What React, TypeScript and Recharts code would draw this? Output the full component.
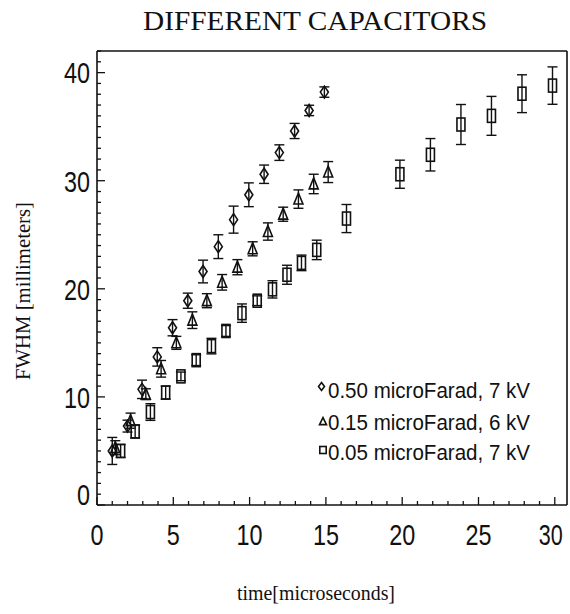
import React from "react";
import { ScatterChart, Scatter, XAxis, YAxis, ErrorBar, Legend } from "recharts";

// 0.50 microFarad, 7 kV (diamonds)
const diamondX = [1.0, 2.0, 2.95, 3.95, 4.95, 5.95, 6.95, 7.95, 8.95, 9.95, 10.95, 11.95, 12.95, 13.9, 14.9];
const diamondY = [5.0, 7.3, 10.7, 13.7, 16.4, 18.9, 21.6, 23.9, 26.4, 28.7, 30.6, 32.6, 34.6, 36.5, 38.2];
const diamondErr = [1.25, 0.55, 0.85, 0.85, 0.75, 0.7, 1.05, 1.1, 1.25, 1.1, 0.85, 0.72, 0.7, 0.48, 0.48];

// 0.15 microFarad, 6 kV (triangles)
const triangleX = [1.2, 2.2, 3.2, 4.2, 5.2, 6.25, 7.2, 8.2, 9.2, 10.2, 11.2, 12.2, 13.2, 14.2, 15.15];
const triangleY = [5.3, 7.8, 10.25, 12.6, 15.0, 17.1, 18.9, 20.6, 22.0, 23.7, 25.3, 26.9, 28.3, 29.7, 30.8];
const triangleErr = [0.65, 0.7, 0.5, 0.77, 0.6, 0.77, 0.65, 0.72, 0.7, 0.65, 0.8, 0.65, 0.85, 0.9, 0.97];

// 0.05 microFarad, 7 kV (squares)
const squareX = [1.55, 2.5, 3.5, 4.5, 5.5, 6.5, 7.5, 8.45, 9.5, 10.5, 11.5, 12.45, 13.4, 14.4, 16.35, 19.85, 21.85, 23.85, 25.85, 27.85, 29.85];
const squareY = [5.0, 6.8, 8.6, 10.4, 11.9, 13.4, 14.7, 16.1, 17.75, 18.9, 19.95, 21.3, 22.4, 23.6, 26.5, 30.6, 32.4, 35.2, 36.0, 38.05, 38.8];
const squareErr = [0.6, 0.6, 0.77, 0.6, 0.4, 0.5, 0.72, 0.5, 0.85, 0.45, 0.8, 0.88, 0.72, 0.9, 1.3, 1.3, 1.5, 1.85, 1.8, 1.75, 1.73];

const legendLabels = ["0.50 microFarad, 7 kV", "0.15 microFarad, 6 kV", "0.05 microFarad, 7 kV"];

const majorXTicks = [0, 5, 10, 15, 20, 25, 30];
const majorYTicks = [0, 10, 20, 30, 40];
const xTicks = Array.from({ length: 31 }, (_, i) => i);
const yTicks = Array.from({ length: 43 }, (_, i) => i);

const X_MAX = 30.8;
const Y_MAX = 42;

const toPoints = (xs: number[], ys: number[], errs: number[]) =>
  xs.map((x, i) => ({ x, y: ys[i], err: errs[i] }));

const diamondData = toPoints(diamondX, diamondY, diamondErr);
const triangleData = toPoints(triangleX, triangleY, triangleErr);
const squareData = toPoints(squareX, squareY, squareErr);

const INK = "#111";
const SANS = "'Liberation Sans Narrow', 'Liberation Sans', Arial, sans-serif";
const SERIF = "'Liberation Serif', 'Times New Roman', serif";

function Diamond({ cx, cy, w = 4, h = 6 }: { cx: number; cy: number; w?: number; h?: number }) {
  return (
    <path
      d={`M${cx},${cy - h} L${cx + w},${cy} L${cx},${cy + h} L${cx - w},${cy} Z`}
      fill="none"
      stroke={INK}
      strokeWidth={1.6}
    />
  );
}

function Triangle({ cx, cy, w = 4.5, h = 11 }: { cx: number; cy: number; w?: number; h?: number }) {
  return (
    <path
      d={`M${cx},${cy - h * 0.55} L${cx + w},${cy + h * 0.45} L${cx - w},${cy + h * 0.45} Z`}
      fill="none"
      stroke={INK}
      strokeWidth={1.6}
    />
  );
}

function Square({ cx, cy, w = 4, h = 6.5 }: { cx: number; cy: number; w?: number; h?: number }) {
  return (
    <rect x={cx - w} y={cy - h} width={w * 2} height={h * 2} fill="none" stroke={INK} strokeWidth={1.6} />
  );
}

function tickLabel(x: number, y: number, v: number, anchor: "middle" | "end", len?: number) {
  const s = String(v);
  return (
    <text
      x={x}
      y={y}
      textAnchor={anchor}
      fontFamily={SANS}
      fontSize={30}
      fill={INK}
      textLength={len ?? s.length * 13}
      lengthAdjust="spacingAndGlyphs"
    >
      {s}
    </text>
  );
}

function BottomTick(props: any) {
  const { x, y, payload } = props;
  const v = payload.value;
  const major = majorXTicks.includes(v);
  const last = v === 30;
  return (
    <g>
      <line x1={x} x2={x} y1={y} y2={y - (major ? 8 : 4)} stroke={INK} strokeWidth={1.3} />
      {major && tickLabel(last ? x - 4 : x, y + 40, v, "middle", last ? 24 : undefined)}
    </g>
  );
}

function TopTick(props: any) {
  const { x, y, payload } = props;
  const major = majorXTicks.includes(payload.value);
  return <line x1={x} x2={x} y1={y} y2={y + (major ? 8 : 4)} stroke={INK} strokeWidth={1.3} />;
}

function LeftTick(props: any) {
  const { x, y, payload } = props;
  const v = payload.value;
  const major = majorYTicks.includes(v);
  return (
    <g>
      <line x1={x} x2={x + (major ? 8 : 4)} y1={y} y2={y} stroke={INK} strokeWidth={1.3} />
      {major && tickLabel(x - 7, v === 0 ? y : y + 10.8, v, "end")}
    </g>
  );
}

function RightTick(props: any) {
  const { x, y, payload } = props;
  const major = majorYTicks.includes(payload.value);
  return <line x1={x} x2={x - (major ? 8 : 4)} y1={y} y2={y} stroke={INK} strokeWidth={1.3} />;
}

function TitleText() {
  return (
    <text
      x={315}
      y={30}
      textAnchor="middle"
      fontFamily={SERIF}
      fontSize={27}
      fill={INK}
      textLength={344}
      lengthAdjust="spacingAndGlyphs"
    >
      DIFFERENT CAPACITORS
    </text>
  );
}

function XLabelText() {
  return (
    <text x={316} y={600} textAnchor="middle" fontFamily={SERIF} fontSize={20} fill={INK} textLength={158} lengthAdjust="spacingAndGlyphs">
      time[microseconds]
    </text>
  );
}

function YLabelText() {
  return (
    <text
      x={29.5}
      y={291}
      transform="rotate(-90 29.5 291)"
      textAnchor="middle"
      fontFamily={SERIF}
      fontSize={20.5}
      fill={INK}
      textLength={178}
      lengthAdjust="spacingAndGlyphs"
    >
      FWHM [millimeters]
    </text>
  );
}

function LegendContent() {
  const baselines = [398, 430, 460];
  const symbols = [
    <Diamond key="d" cx={321.5} cy={386.5} w={3} h={4} />,
    <Triangle key="t" cx={323} cy={421.5} w={3.5} h={7} />,
    <Square key="s" cx={323} cy={450} w={3.2} h={3.5} />,
  ];
  return (
    <svg width={570} height={614} style={{ position: "absolute", left: 0, top: 0, overflow: "visible" }}>
      {legendLabels.map((label, i) => (
        <g key={label}>
          {symbols[i]}
          <text
            x={328}
            y={baselines[i]}
            fontFamily={SANS}
            fontSize={22}
            fill={INK}
            textLength={202}
            lengthAdjust="spacingAndGlyphs"
          >
            {label}
          </text>
        </g>
      ))}
    </svg>
  );
}

export default function App() {
  return (
    <div style={{ position: "fixed", left: 0, top: 0, width: 570, height: 614, background: "#fff" }}>
      <ScatterChart width={570} height={614} margin={{ top: 50, right: 0, bottom: 49, left: 37 }}>
        <XAxis
          xAxisId="bottom"
          type="number"
          dataKey="x"
          orientation="bottom"
          domain={[0, X_MAX]}
          ticks={xTicks}
          interval={0}
          height={60}
          tickSize={0}
          tickMargin={0}
          tickLine={false}
          tick={BottomTick}
          axisLine={{ stroke: INK, strokeWidth: 1.6 }}
          label={<XLabelText />}
        />
        <XAxis
          xAxisId="top"
          type="number"
          dataKey="x"
          orientation="top"
          domain={[0, X_MAX]}
          ticks={xTicks}
          interval={0}
          height={1}
          tickSize={0}
          tickMargin={0}
          tickLine={false}
          tick={TopTick}
          axisLine={{ stroke: INK, strokeWidth: 1.6 }}
          label={<TitleText />}
        />
        <YAxis
          yAxisId="left"
          type="number"
          dataKey="y"
          orientation="left"
          domain={[0, Y_MAX]}
          ticks={yTicks}
          interval={0}
          width={60}
          tickSize={0}
          tickMargin={0}
          tickLine={false}
          tick={LeftTick}
          axisLine={{ stroke: INK, strokeWidth: 1.6 }}
          label={<YLabelText />}
        />
        <YAxis
          yAxisId="right"
          type="number"
          dataKey="y"
          orientation="right"
          domain={[0, Y_MAX]}
          ticks={yTicks}
          interval={0}
          width={3}
          tickSize={0}
          tickMargin={0}
          tickLine={false}
          tick={RightTick}
          axisLine={{ stroke: INK, strokeWidth: 1.6 }}
        />
        <Legend layout="vertical" align="center" verticalAlign="middle" content={<LegendContent />}
          wrapperStyle={{ position: "absolute", left: 0, top: 0, width: 570, height: 614, pointerEvents: "none" }} />
        <Scatter
          name="0.50 microFarad, 7 kV"
          data={diamondData}
          xAxisId="bottom"
          yAxisId="left"
          isAnimationActive={false}
          shape={(p: any) => <Diamond cx={p.cx} cy={p.cy} />}
        >
          <ErrorBar dataKey="err" direction="y" width={5} stroke={INK} strokeWidth={1.4} isAnimationActive={false} />
        </Scatter>
        <Scatter
          name="0.15 microFarad, 6 kV"
          data={triangleData}
          xAxisId="bottom"
          yAxisId="left"
          isAnimationActive={false}
          shape={(p: any) => <Triangle cx={p.cx} cy={p.cy} />}
        >
          <ErrorBar dataKey="err" direction="y" width={5} stroke={INK} strokeWidth={1.4} isAnimationActive={false} />
        </Scatter>
        <Scatter
          name="0.05 microFarad, 7 kV"
          data={squareData}
          xAxisId="bottom"
          yAxisId="left"
          isAnimationActive={false}
          shape={(p: any) => <Square cx={p.cx} cy={p.cy} />}
        >
          <ErrorBar dataKey="err" direction="y" width={5} stroke={INK} strokeWidth={1.4} isAnimationActive={false} />
        </Scatter>
      </ScatterChart>
    </div>
  );
}
